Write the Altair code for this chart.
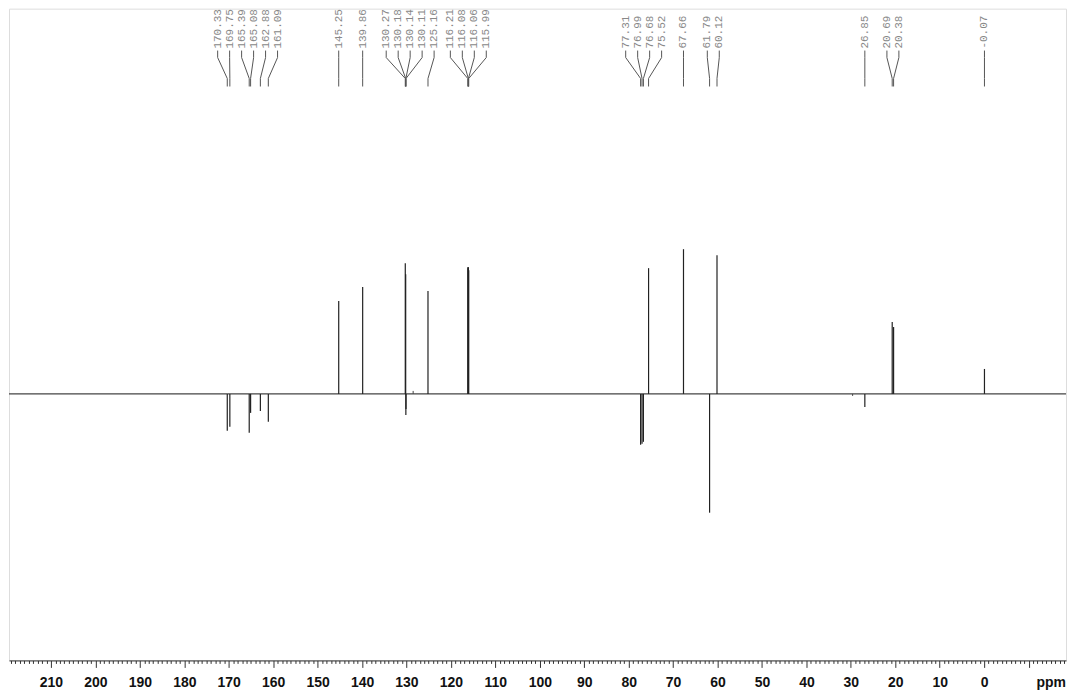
import altair as alt
import pandas as pd

# ---- data ----
peak_ppm = [170.33, 169.75, 165.39, 165.08, 162.88, 161.09,
            145.25, 139.86, 130.27, 130.18, 130.14, 130.11, 125.16,
            116.21, 116.08, 116.06, 115.99,
            77.31, 76.99, 76.68, 75.52, 67.66, 61.79, 60.12,
            26.85, 20.69, 20.38, -0.07]
peak_int = [-37, -33, -39, -19, -17, -28,
            93, 107, 131, 120, -21, -15, 103,
            127, 125, 127, 124,
            -51, -50, -48, 126, 145, -119, 139,
            -13, 72, 67, 25]
minor_ppm = [128.5, 29.6]
minor_int = [3, -2]

spec_left = 219.45
spec_right = -18.42
tick_values = list(range(-18, 220))

W, H = 1059, 653
Y_MIN, Y_MAX = -267, 386

# ---- label de-overlap (spread labels of close peaks) ----
px_per_ppm = W / (spec_left - spec_right)
sep = 12 / px_per_ppm
order = sorted(range(len(peak_ppm)), key=lambda i: -peak_ppm[i])
groups = [[i] for i in order]


def place(g):
    c = sum(peak_ppm[i] for i in g) / len(g)
    n = len(g)
    return [c + ((n - 1) / 2 - k) * sep for k in range(n)]


changed = True
while changed:
    changed = False
    for j in range(len(groups) - 1):
        a, b = place(groups[j]), place(groups[j + 1])
        if a[-1] - b[0] < sep:
            groups[j] = groups[j] + groups[j + 1]
            del groups[j + 1]
            changed = True
            break

label_pos = {}
for g in groups:
    for i, p in zip(g, place(g)):
        label_pos[i] = p

peaks = pd.DataFrame({
    "ppm": peak_ppm,
    "intensity": peak_int,
    "base": [0] * len(peak_ppm),
    "lx": [label_pos[i] for i in range(len(peak_ppm))],
    "label": [f"{v:.2f}" for v in peak_ppm],
})
minor = pd.DataFrame({"ppm": minor_ppm, "intensity": minor_int, "base": [0] * len(minor_ppm)})
baseline = pd.DataFrame({"a": [spec_left], "b": [spec_right], "base": [0]})

xscale = alt.Scale(domain=[spec_right, spec_left], reverse=True, nice=False, zero=False)
yscale = alt.Scale(domain=[Y_MIN, Y_MAX], nice=False, zero=False)

xaxis = alt.Axis(
    values=tick_values,
    tickCount=1000,
    format="d",
    labelExpr="datum.value == -15 ? 'ppm' : ((datum.value % 10 == 0 && datum.value >= 0) ? datum.label : '')",
    tickSize={"condition": {"test": "datum.value % 10 == 0", "value": 7}, "value": 3},
    tickColor="#333",
    tickWidth=1,
    domainColor="#333",
    domainWidth=1,
    labelFont="Liberation Sans",
    labelFontWeight="bold",
    labelFontSize=14,
    labelColor="#111",
    labelPadding={"condition": {"test": "datum.value == -15", "value": 12}, "value": 8},
    labelOverlap=False,
    labelFlush=False,
    grid=False,
    title=None,
)

base_layer = alt.Chart(baseline).mark_rule(color="#444", strokeWidth=1.2).encode(
    x=alt.X("a:Q", scale=xscale, axis=xaxis),
    x2="b:Q",
    y=alt.Y("base:Q", scale=yscale, axis=None),
)

peak_layer = alt.Chart(peaks).mark_rule(color="#222", strokeWidth=1.2).encode(
    x=alt.X("ppm:Q", scale=xscale),
    y=alt.Y("base:Q", scale=yscale),
    y2="intensity:Q",
)

minor_layer = alt.Chart(minor).mark_rule(color="#444", strokeWidth=1).encode(
    x=alt.X("ppm:Q", scale=xscale),
    y=alt.Y("base:Q", scale=yscale),
    y2="intensity:Q",
)

text_layer = alt.Chart(peaks).mark_text(
    angle=270, align="left", baseline="middle",
    font="Liberation Mono", fontSize=11, color="#888",
).encode(
    x=alt.X("lx:Q", scale=xscale),
    y=alt.value(40),
    text="label:N",
)

seg1 = alt.Chart(peaks).mark_rule(color="#555", strokeWidth=1).encode(
    x=alt.X("lx:Q", scale=xscale), y=alt.value(42), y2=alt.value(49))
seg2 = alt.Chart(peaks).mark_rule(color="#555", strokeWidth=1).encode(
    x=alt.X("lx:Q", scale=xscale), x2="ppm:Q", y=alt.value(49), y2=alt.value(70))
seg3 = alt.Chart(peaks).mark_rule(color="#555", strokeWidth=1).encode(
    x=alt.X("ppm:Q", scale=xscale), y=alt.value(70), y2=alt.value(78))

chart = alt.layer(
    base_layer, minor_layer, peak_layer, text_layer, seg1, seg2, seg3
).properties(
    width=W, height=H, padding=0
).configure_view(stroke=None).configure(background="white")

chart.save("out.html", embed_options={"renderer": "svg", "actions": False})
